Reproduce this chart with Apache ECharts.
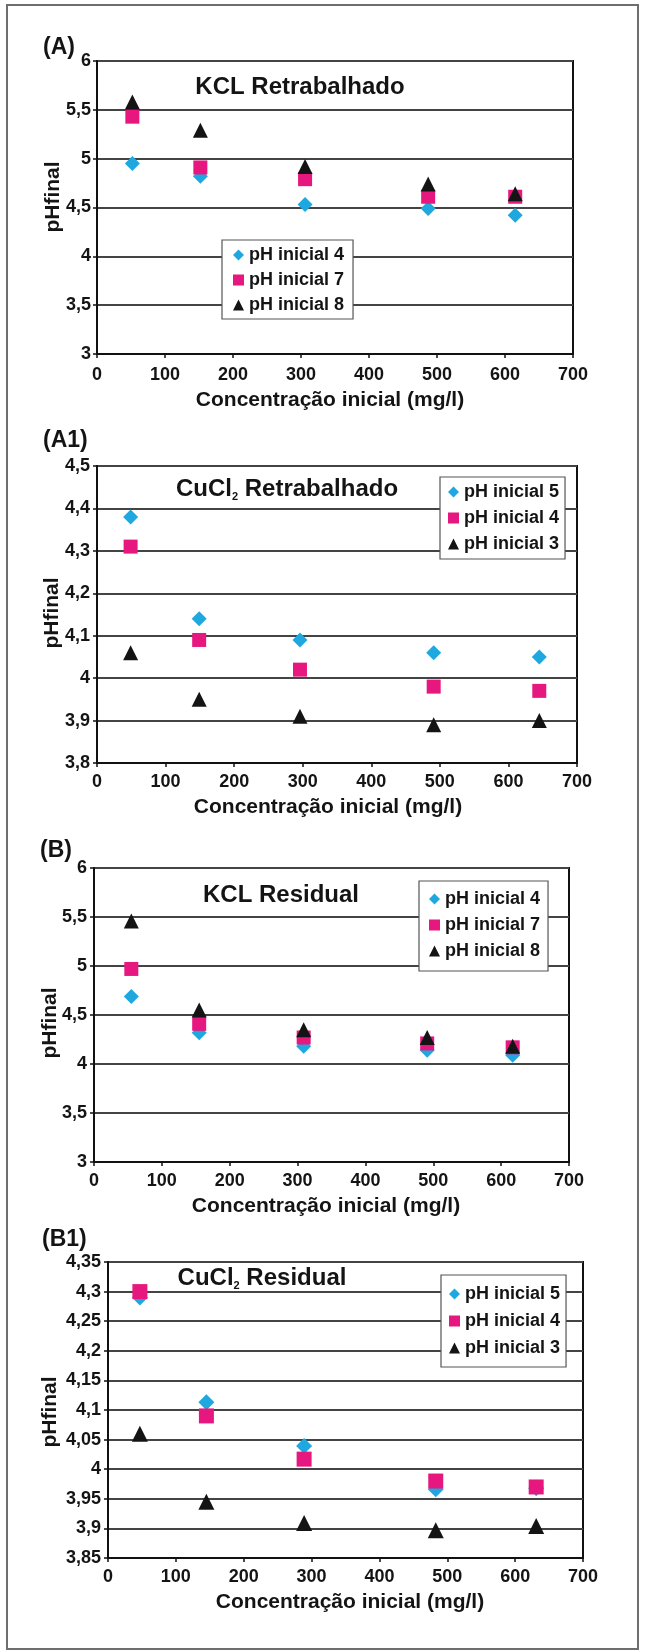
<!DOCTYPE html>
<html>
<head>
<meta charset="utf-8">
<script src="https://cdn.jsdelivr.net/npm/echarts@6/dist/echarts.min.js"></script>
<style>
    body { margin: 0; background: #fff; }
    #page { position: relative; width: 646px; height: 1652px; overflow: hidden; }
    #frame { position: absolute; left: 6px; top: 4px; width: 633px; height: 1646px; box-sizing: border-box; border: 2px solid #6e6e6e; }
    .panel { position: absolute; left: 0; width: 646px; }
</style>
</head>
<body>
<div id="page">
    <div id="frame"></div>
    <div id="ChartA" class="panel" style="top:0px;height:413px"></div>
    <div id="ChartA1" class="panel" style="top:413px;height:407px"></div>
    <div id="ChartB" class="panel" style="top:820px;height:405px"></div>
    <div id="ChartB1" class="panel" style="top:1225px;height:427px"></div>
</div>
<script>
"use strict";
/* ============= data ======================================= */
const xTicks = [0, 100, 200, 300, 400, 500, 600, 700];

/** (A) KCL Retrabalhado */
const concA = [52, 152, 306, 487, 615];
const aPh4 = [4.95, 4.82, 4.53, 4.49, 4.42];
const aPh7 = [5.43, 4.91, 4.79, 4.61, 4.61];
const aPh8 = [5.58, 5.29, 4.92, 4.74, 4.64];

/** (A1) CuCl2 Retrabalhado */
const concA1 = [49, 149, 296, 491, 645];
const a1Ph5 = [4.38, 4.14, 4.09, 4.06, 4.05];
const a1Ph4 = [4.31, 4.09, 4.02, 3.98, 3.97];
const a1Ph3 = [4.06, 3.95, 3.91, 3.89, 3.90];

/** (B) KCL Residual */
const concB = [55, 155, 309, 491, 617];
const bPh4 = [4.69, 4.32, 4.18, 4.14, 4.09];
const bPh7 = [4.97, 4.41, 4.27, 4.21, 4.17];
const bPh8 = [5.46, 4.55, 4.35, 4.27, 4.18];

/** (B1) CuCl2 Residual */
const concB1 = [47, 145, 289, 483, 631];
const b1Ph5 = [4.29, 4.113, 4.039, 3.966, 3.968];
const b1Ph4 = [4.30, 4.09, 4.017, 3.98, 3.97];
const b1Ph3 = [4.06, 3.945, 3.909, 3.897, 3.904];

/* ============= styles =================== */
const FONT = "'Liberation Sans', Arial, Helvetica, sans-serif";
const CYAN = "#1fa8e0";
const PINK = "#e6177f";
const BLACK = "#141414";
const TEXT = "#141414";

function Fmt(v) {
    return String(Math.round(v * 100) / 100).replace(".", ",");
}

function Text(x, y, text, size, extra) {
    let el = {
        type: "text", x: x, y: y,
        style: Object.assign({
            text: text, fontFamily: FONT, fontWeight: "bold", fontSize: size,
            fill: TEXT, align: "center", verticalAlign: "middle"
        }, extra || {})
    };
    return el;
}

/**
 * all positions in cfg are page coordinates; top0 is the panel's offset
 */
function BuildChart(id, cfg) {
    let chart = echarts.init(document.getElementById(id), null, { renderer: "canvas" });
    const t = cfg.top0;
    const g = cfg.grid;
    let graphic = [
        Text(cfg.label[0], cfg.label[1] - t, cfg.label[2], 23, { align: "left" }),
        Text(cfg.xName[0], cfg.xName[1] - t, "Concentração inicial (mg/l)", 21),
        Object.assign(Text(cfg.yName[0], cfg.yName[1] - t, "pHfinal", 21), { rotation: Math.PI / 2 })
    ];
    let title = Text(cfg.title[0], cfg.title[1] - t, cfg.title[2], 24);
    if (cfg.title[3]) {
        title.style.rich = {
            sub: { fontFamily: FONT, fontWeight: "bold", fontSize: 11, lineHeight: 11, verticalAlign: "bottom", fill: TEXT }
        };
        title.style.lineHeight = 26;
    }
    graphic.push(title);

    chart.setOption({
        animation: false,
        grid: {
            left: g.left, top: g.top - t, width: g.right - g.left, height: g.bottom - g.top,
            show: true, borderColor: "#111", borderWidth: 2, backgroundColor: "transparent"
        },
        xAxis: {
            type: "value", min: xTicks[0], max: xTicks[xTicks.length - 1], interval: 100,
            axisLine: { show: true, lineStyle: { color: "#111", width: 2 } },
            axisTick: { show: true, length: 4, lineStyle: { color: "#111", width: 1.5 } },
            axisLabel: { margin: cfg.xMargin, fontFamily: FONT, fontWeight: "bold", fontSize: 18, color: TEXT },
            splitLine: { show: false }
        },
        yAxis: {
            type: "value", min: cfg.yMin, max: cfg.yMax, interval: cfg.yStep,
            axisLine: { show: true, lineStyle: { color: "#111", width: 2 } },
            axisTick: { show: true, length: 4, lineStyle: { color: "#111", width: 1.5 } },
            axisLabel: { margin: cfg.yMargin, fontFamily: FONT, fontWeight: "bold", fontSize: 18, color: TEXT, formatter: Fmt },
            splitLine: { show: true, lineStyle: { color: "#444", width: 2 } }
        },
        legend: {
            orient: "vertical",
            left: cfg.legend.left, top: cfg.legend.top - t,
            padding: cfg.legend.padding, itemGap: cfg.legend.gap,
            itemWidth: 11, itemHeight: 11, itemTextGap: cfg.legend.textGap,
            borderColor: "#555", borderWidth: 1.2, backgroundColor: "#fff",
            textStyle: { fontFamily: FONT, fontWeight: "bold", fontSize: 18, color: TEXT },
            data: cfg.series.map((s) => ({ name: s.name, icon: s.symbol, itemStyle: { color: s.color } }))
        },
        graphic: graphic,
        series: cfg.series.map((s) => ({
            type: "scatter",
            name: s.name,
            symbol: s.symbol,
            symbolSize: s.size,
            itemStyle: { color: s.color, opacity: 1 },
            data: cfg.x.map((x, i) => [x, s.values[i]])
        }))
    });
    return chart;
}

BuildChart("ChartA", {
    top0: 0,
    grid: { left: 97, right: 573, top: 61, bottom: 354 },
    yMin: 3, yMax: 6, yStep: 0.5, xMargin: 12, yMargin: 6,
    label: [43, 48, "(A)"],
    title: [300, 87, "KCL Retrabalhado"],
    xName: [330, 400],
    yName: [53, 197],
    legend: { left: 222, top: 240, padding: [6, 9, 5, 11], gap: 7, textGap: 10 },
    x: concA,
    series: [
        { name: "pH inicial 4", symbol: "diamond", color: CYAN, size: 15, values: aPh4 },
        { name: "pH inicial 7", symbol: "rect", color: PINK, size: 14, values: aPh7 },
        { name: "pH inicial 8", symbol: "triangle", color: BLACK, size: 15, values: aPh8 }
    ]
});

BuildChart("ChartA1", {
    top0: 413,
    grid: { left: 97, right: 577, top: 466, bottom: 763 },
    yMin: 3.8, yMax: 4.5, yStep: 0.1, xMargin: 10, yMargin: 7,
    label: [43, 441, "(A1)"],
    title: [287, 489, "CuCl{sub|2} Retrabalhado", true],
    xName: [328, 807],
    yName: [52, 613],
    legend: { left: 440, top: 477, padding: [6, 6, 6, 8], gap: 8, textGap: 9 },
    x: concA1,
    series: [
        { name: "pH inicial 5", symbol: "diamond", color: CYAN, size: 15, values: a1Ph5 },
        { name: "pH inicial 4", symbol: "rect", color: PINK, size: 14, values: a1Ph4 },
        { name: "pH inicial 3", symbol: "triangle", color: BLACK, size: 15, values: a1Ph3 }
    ]
});

BuildChart("ChartB", {
    top0: 820,
    grid: { left: 94, right: 569, top: 868, bottom: 1162 },
    yMin: 3, yMax: 6, yStep: 0.5, xMargin: 10, yMargin: 7,
    label: [40, 851, "(B)"],
    title: [281, 895, "KCL Residual"],
    xName: [326, 1206],
    yName: [50, 1023],
    legend: { left: 419, top: 881, padding: [9, 8, 11, 10], gap: 8, textGap: 9 },
    x: concB,
    series: [
        { name: "pH inicial 4", symbol: "diamond", color: CYAN, size: 15, values: bPh4 },
        { name: "pH inicial 7", symbol: "rect", color: PINK, size: 14, values: bPh7 },
        { name: "pH inicial 8", symbol: "triangle", color: BLACK, size: 15, values: bPh8 }
    ]
});

BuildChart("ChartB1", {
    top0: 1225,
    grid: { left: 108, right: 583, top: 1262, bottom: 1558 },
    yMin: 3.85, yMax: 4.35, yStep: 0.05, xMargin: 10, yMargin: 7,
    label: [42, 1240, "(B1)"],
    title: [262, 1278, "CuCl{sub|2} Residual", true],
    xName: [350, 1602],
    yName: [50, 1412],
    legend: { left: 441, top: 1275, padding: [10, 6, 10, 8], gap: 9, textGap: 9 },
    x: concB1,
    series: [
        { name: "pH inicial 5", symbol: "diamond", color: CYAN, size: 16, values: b1Ph5 },
        { name: "pH inicial 4", symbol: "rect", color: PINK, size: 15, values: b1Ph4 },
        { name: "pH inicial 3", symbol: "triangle", color: BLACK, size: 16, values: b1Ph3 }
    ]
});
</script>
</body>
</html>
